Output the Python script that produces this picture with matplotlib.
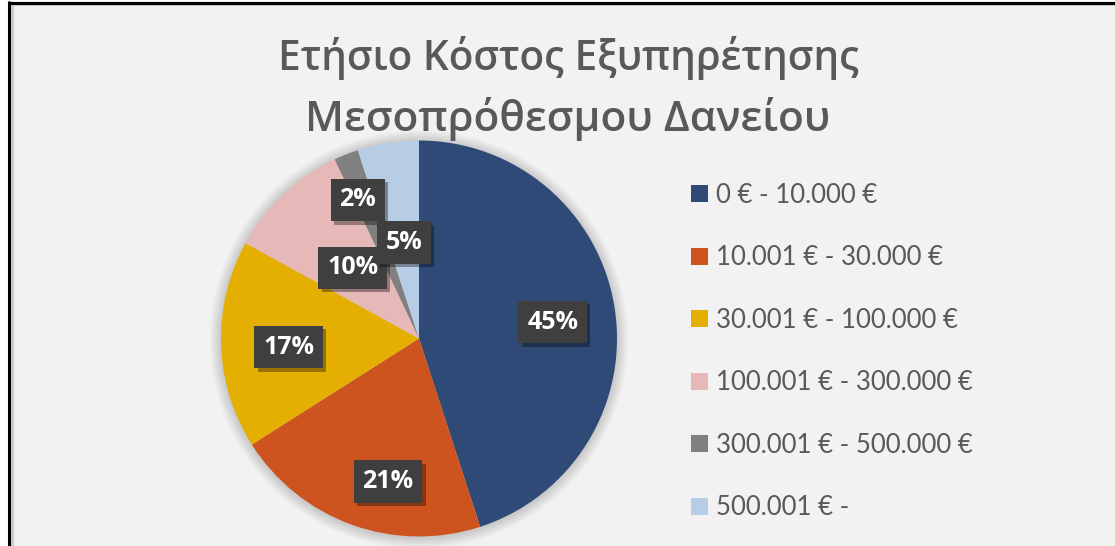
import matplotlib
matplotlib.use('Agg')
import matplotlib.pyplot as plt
from matplotlib.patches import Rectangle, Circle
from matplotlib.lines import Line2D
import matplotlib.patheffects as pe
import numpy as np

# ---------------- data ----------------
title_lines = ['Ετήσιο Κόστος Εξυπηρέτησης', 'Μεσοπρόθεσμου Δανείου']
categories = ['0 € - 10.000 €', '10.001 € - 30.000 €', '30.001 € - 100.000 €',
              '100.001 € - 300.000 €', '300.001 € - 500.000 €', '500.001 € -']
shares = [45, 21, 17, 10, 2, 5]
pct_labels = ['45%', '21%', '17%', '10%', '2%', '5%']

# ---------------- style ----------------
colors = ['#2F4A77', '#CD531F', '#E5AF02', '#E6B8B7', '#808080', '#B7CCE5']
label_dist = [0.68, 0.74, 0.66, 0.49, 0.765, 0.49]
label_shift = [-2, 7.6, 2, 0, 2.2, 0]
TEXT_GRAY = '#595959'
BG = '#F2F2F2'

W, H = 1115, 546
fig = plt.figure(figsize=(W / 100, H / 100), dpi=100)
fig.patch.set_facecolor('white')


def fx(px):
    return px / W


def fy(py):
    return 1 - py / H


# chart area background and frame
fig.add_artist(Rectangle((fx(8), 0), 1 - fx(8), fy(1), transform=fig.transFigure,
                         facecolor=BG, edgecolor='none', zorder=0))
fig.add_artist(Line2D([fx(11.5), fx(11.5)], [0, fy(4)], transform=fig.transFigure,
                      color='#CCCCCC', lw=2.2, zorder=1))
fig.add_artist(Line2D([fx(11), 1], [fy(5), fy(5)], transform=fig.transFigure,
                      color='#CCCCCC', lw=1.5, zorder=1))
fig.add_artist(Line2D([fx(9), fx(9)], [0, fy(1)], transform=fig.transFigure,
                      color='black', lw=2.2, zorder=2, solid_capstyle='butt'))
fig.add_artist(Line2D([fx(7.5), 1], [fy(2.5), fy(2.5)], transform=fig.transFigure,
                      color='black', lw=2.2, zorder=2, solid_capstyle='butt'))

# ---------------- pie ----------------
cx, cy, R = 419, 338.5, 198
ax = fig.add_axes([fx(cx - R), fy(cy + R), 2 * R / W, 2 * R / H])
ax.set_facecolor('none')

# soft shadow halo
for k in range(1, 9):
    ax.add_patch(Circle((0.0, -0.005), 1 + 0.007 * k, facecolor='black',
                        alpha=0.018, edgecolor='none', zorder=0, clip_on=False))

wedges, _ = ax.pie(shares, colors=colors, startangle=90, counterclock=False,
                   radius=1, wedgeprops=dict(linewidth=0, edgecolor='none'))
for w in wedges:
    w.set_zorder(2)
ax.set_xlim(-1, 1)
ax.set_ylim(-1, 1)
ax.set_aspect('equal')
ax.axis('off')

for w, lbl, d, sh in zip(wedges, pct_labels, label_dist, label_shift):
    ang = np.deg2rad((w.theta1 + w.theta2) / 2 + sh)
    t = ax.text(d * np.cos(ang), d * np.sin(ang), lbl, ha='center', va='center',
                color='white', fontsize=18, fontweight='bold',
                family=['Open Sans', 'DejaVu Sans'], zorder=5,
                bbox=dict(boxstyle='square,pad=0.35', facecolor='#3F3F3F',
                          edgecolor='none'))
    t.get_bbox_patch().set_path_effects([
        pe.withSimplePatchShadow(offset=(2.5, -2.5), shadow_rgbFace='black', alpha=0.35),
        pe.Normal()])

# ---------------- title ----------------
title_specs = [(title_lines[0], 70, 582), (title_lines[1], 131, 525)]
fig.canvas.draw()
for txt, base, target_w in title_specs:
    t = fig.text(fx(568), fy(base), txt, ha='center', va='baseline',
                 fontsize=30, color=TEXT_GRAY, fontweight='semibold',
                 family=['Open Sans', 'DejaVu Sans'])
    fig.canvas.draw()
    wpx = t.get_window_extent().width
    t.set_fontsize(30 * target_w / wpx)

# ---------------- legend ----------------
leg = fig.legend(wedges, categories, loc='center left',
                 bbox_to_anchor=(fx(691), fy(351.5)), bbox_transform=fig.transFigure,
                 frameon=False, prop=dict(family=['Lato', 'DejaVu Sans'], size=18.5),
                 labelcolor=TEXT_GRAY, handlelength=0.66, handleheight=0.66,
                 handletextpad=0.3, labelspacing=1.46, borderpad=0, borderaxespad=0)

fig.savefig('out.png', dpi=100, facecolor=fig.get_facecolor())
